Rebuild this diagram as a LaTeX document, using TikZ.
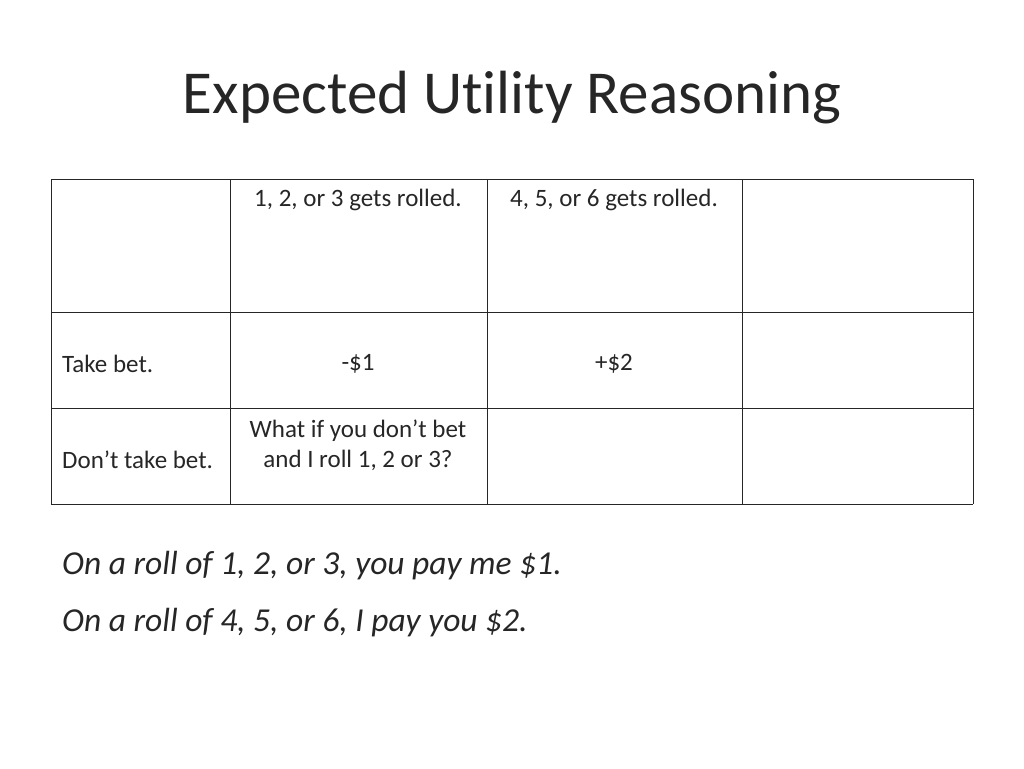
\documentclass[tikz,border=0pt]{standalone}
\usepackage{fontspec}
\setmainfont[RawFeature={-liga}]{Carlito}
\usetikzlibrary{positioning}
\tikzset{
    celltext/.style={inner sep=0pt, font=\fontsize{25}{30}\selectfont, text=black!85},
    rule/.style={line width=1pt, black!85},
}
\begin{document}
\begin{tikzpicture}[x=1pt, y=-1pt]
    \useasboundingbox (0,0) rectangle (1024,768);
    \node [inner sep=0pt, font=\fontsize{61}{66}\selectfont, text=black!85] (title) at (512,98) {Expected Utility Reasoning};
    % table grid
    \foreach \x in {51,230,487,742,973}
        \draw [rule] (\x,179) -- (\x,504);
    \foreach \y in {179,312,408,504}
        \draw [rule] (51,\y) -- (973,\y);
    % cells
    \node [celltext] (h1) at (358,200) {1, 2, or 3 gets rolled.};
    \node [celltext] (h2) at (614,200) {4, 5, or 6 gets rolled.};
    \node [celltext, anchor=west] (r1) at (62,364) {Take bet.};
    \node [celltext] (c11) at (358,364) {-\$1};
    \node [celltext] (c12) at (614,364) {+\$2};
    \node [celltext, anchor=west] (r2) at (62,460) {Don’t take bet.};
    \node [celltext, align=center, font=\fontsize{25}{30}\selectfont] (c21) at (358,445) {What if you don’t bet\\and I roll 1, 2 or 3?};
    % rules of the bet
    \node [inner sep=0pt, anchor=west, font=\fontsize{33.5}{36}\itshape, text=black!85] (l1) at (62,566) {On a roll of 1, 2, or 3, you pay me \$1.};
    \node [inner sep=0pt, anchor=west, font=\fontsize{33.5}{36}\itshape, text=black!85] (l2) at (62,623) {On a roll of 4, 5, or 6, I pay you \$2.};
\end{tikzpicture}
\end{document}
